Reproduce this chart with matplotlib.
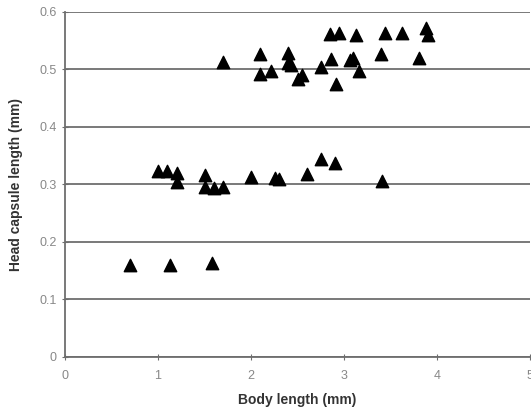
import matplotlib
matplotlib.use("Agg")
import matplotlib.pyplot as plt
from matplotlib.ticker import FuncFormatter

body_length = [
    0.7, 1.13, 1.58,
    1.0, 1.1, 1.2, 1.2, 1.5, 1.5, 1.6, 1.7, 2.0, 2.26, 2.3, 2.6, 2.75, 2.9, 3.41,
    1.7, 2.1, 2.1, 2.21, 2.4, 2.4, 2.43, 2.5, 2.55, 2.75, 2.86, 2.85, 2.94, 2.91,
    3.06, 3.1, 3.13, 3.16, 3.4, 3.44, 3.62, 3.8, 3.88, 3.9,
]
head_capsule = [
    0.160, 0.160, 0.163,
    0.324, 0.324, 0.320, 0.305, 0.317, 0.296, 0.294, 0.296, 0.313, 0.311, 0.310, 0.318, 0.344, 0.337, 0.306,
    0.513, 0.527, 0.492, 0.497, 0.528, 0.512, 0.508, 0.484, 0.490, 0.504, 0.518, 0.562, 0.563, 0.475,
    0.516, 0.520, 0.560, 0.497, 0.527, 0.563, 0.563, 0.520, 0.572, 0.560,
]
x_ticks = [0, 1, 2, 3, 4, 5]
y_ticks = [0, 0.1, 0.2, 0.3, 0.4, 0.5, 0.6]

plt.rcParams['font.family'] = ['Liberation Sans', 'DejaVu Sans']

fig = plt.figure(figsize=(5.31, 4.12), dpi=100)
ax = fig.add_axes([0.1224, 0.1335, 0.876, 0.8375])

ax.scatter(body_length, head_capsule, marker='^', s=80, color='black', zorder=3, clip_on=False)

ax.set_xlim(0, 5)
ax.set_ylim(0, 0.6)
ax.set_xticks(x_ticks)
ax.set_yticks(y_ticks)
ax.yaxis.set_major_formatter(FuncFormatter(lambda v, p: "0" if v == 0 else f"{v:.1f}"))
ax.yaxis.grid(True, color='#6e6e6e', linewidth=1.3)
ax.set_axisbelow(True)

for s in ['top', 'right']:
    ax.spines[s].set_visible(False)
for s in ['left', 'bottom']:
    ax.spines[s].set_color('#6e6e6e')
    ax.spines[s].set_linewidth(1.3)

ax.tick_params(axis='both', direction='inout', length=5, color='#6e6e6e',
               labelcolor='#888888', labelsize=9)
ax.tick_params(axis='x', pad=7)

ax.set_xlabel('Body length (mm)', fontsize=10, fontweight='bold', color='#333333', labelpad=8)
ax.set_ylabel('Head capsule length (mm)', fontsize=10, fontweight='bold', color='#333333', labelpad=12)

fig.savefig('out.png', dpi=100)
